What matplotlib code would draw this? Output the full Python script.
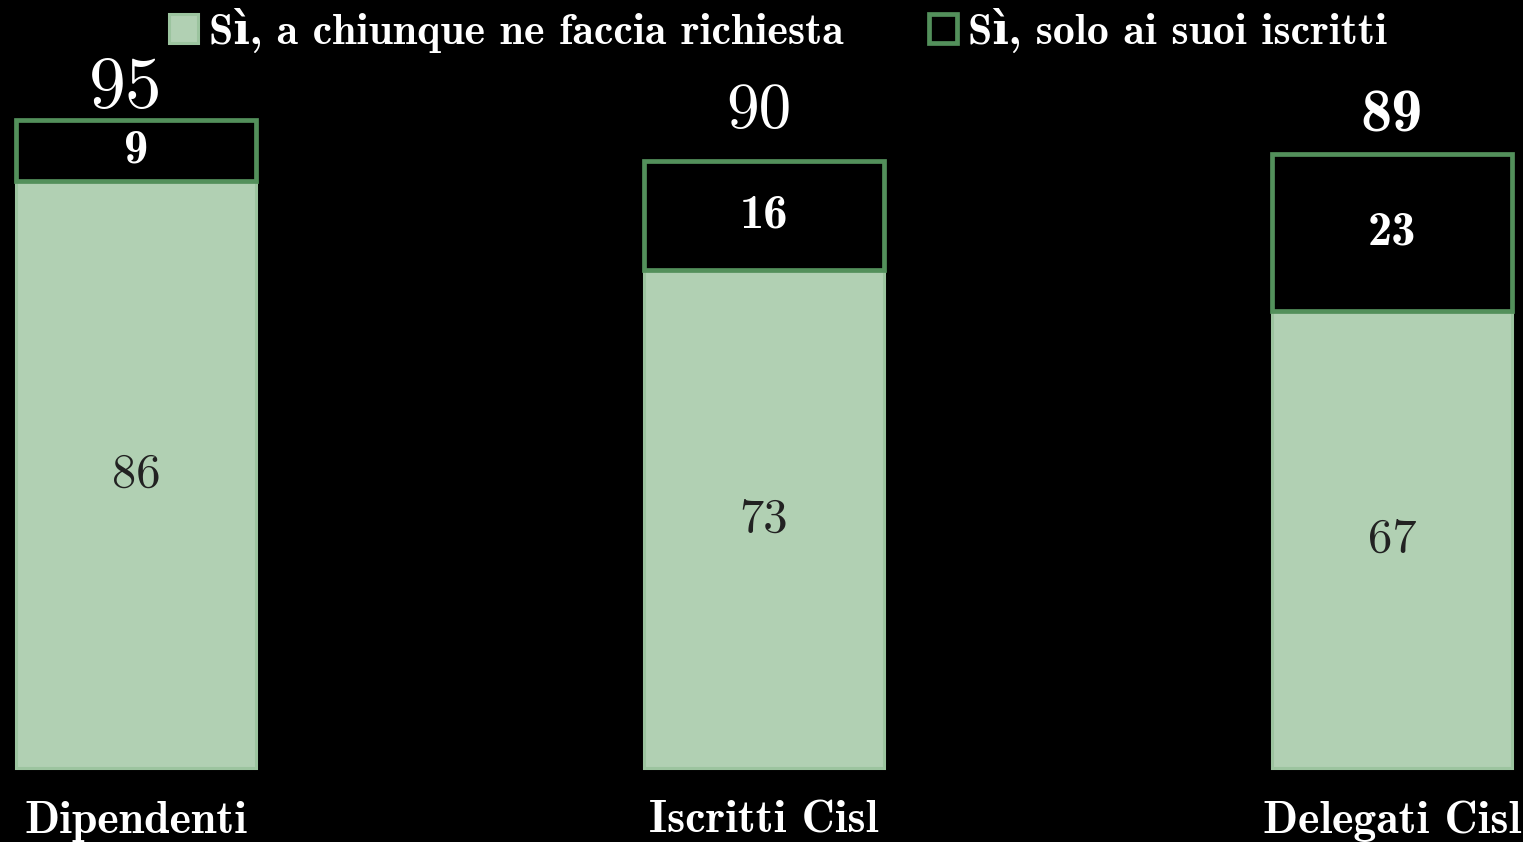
import matplotlib
matplotlib.use("Agg")
import matplotlib.pyplot as plt
import numpy as np

categories = ["Dipendenti", "Iscritti Cisl", "Delegati Cisl"]
chiunque = [86, 73, 67]
iscritti = [9, 16, 23]
totals = ["95", "90", "89"]
legend_labels = ["Sì, a chiunque ne faccia richiesta", "Sì, solo ai suoi iscritti"]

light = "#b1d0b3"
light_edge = "#9cc49f"
dark_edge = "#53905b"
BOLD = ["cmb10", "DejaVu Serif"]

fig = plt.figure(figsize=(15.23, 8.42), dpi=100, facecolor="black")
ax = fig.add_axes([0, 0, 1, 1])
ax.set_facecolor("black")
x = np.arange(len(categories))
w = 0.382
b1 = ax.bar(x, chiunque, width=w, color=light, edgecolor=light_edge, linewidth=2.2, label=legend_labels[0])
b2 = ax.bar(x, iscritti, width=w, bottom=chiunque, color="black", edgecolor=dark_edge, linewidth=3.4, label=legend_labels[1])

ax.set_xlim(-0.2166, 2.2086)
ax.set_ylim(-10.82, 112.6)
ax.axis("off")

tot_sizes = [53, 47, 45]
tot_fonts = [["cmr10"], ["cmr10"], BOLD]
tot_weights = ["normal", "normal", "bold"]
tot_gap = [-0.2, 3.0, 1.5]
tot_dx = [-0.016, -0.008, 0.0]
for i in range(len(categories)):
    ax.text(x[i], chiunque[i] / 2, str(chiunque[i]), ha="center", va="center",
            fontsize=35, family="cmr10", color="#222222")
    ax.text(x[i], chiunque[i] + iscritti[i] / 2, str(iscritti[i]), ha="center", va="center",
            fontsize=35, family=BOLD, weight="bold", color="white")
    ax.text(x[i] + tot_dx[i], chiunque[i] + iscritti[i] + tot_gap[i], totals[i], ha="center", va="bottom",
            fontsize=tot_sizes[i], family=tot_fonts[i], weight=tot_weights[i], color="white")
    ax.text(x[i], -7.8, categories[i], ha="center", va="center",
            fontsize=33, family=BOLD, weight="bold", color="white")

leg = fig.legend(handles=[b1, b2], labels=legend_labels, loc="upper center",
                 bbox_to_anchor=(0.511, 1.037), ncol=2, frameon=False,
                 prop={"family": BOLD, "weight": "bold", "size": 31.5}, labelcolor="white",
                 handlelength=0.65, handleheight=0.65, handletextpad=0.25, columnspacing=1.95)

fig.savefig("out.png", dpi=100, facecolor="black")
